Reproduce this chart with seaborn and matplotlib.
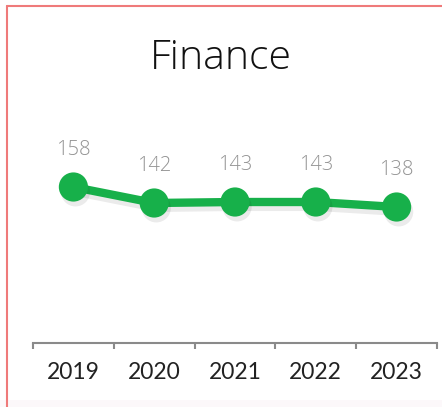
import matplotlib
matplotlib.use("Agg")
import matplotlib.pyplot as plt
import matplotlib.patheffects as pe
from matplotlib.lines import Line2D
from matplotlib.patches import Rectangle
import seaborn as sns
import pandas as pd

title = "Finance"
years = ["2019", "2020", "2021", "2022", "2023"]
values = [158, 142, 143, 143, 138]

sns.set_theme(style="white")
plt.rcParams['font.family'] = ['Lato', 'DejaVu Sans']

W, H = 442, 407
fig = plt.figure(figsize=(W / 100, H / 100), dpi=100)
fig.patch.set_facecolor("white")

# faint tint at the very bottom of the image
fig.add_artist(Rectangle((0, 0), 1, 7 / H, transform=fig.transFigure,
                         facecolor="#fcf8fa", edgecolor="none", zorder=0))

ax = fig.add_axes([33 / W, 64 / H, 404 / W, 243 / H])
ax.set_facecolor("none")

df = pd.DataFrame({"year": years, "value": values})
green = "#17b04a"
sns.pointplot(data=df, x="year", y="value", color=green, ax=ax,
              markersize=16.5, linewidth=6, errorbar=None)

for ln in ax.lines:
    ln.set_solid_capstyle("round")
    ln.set_path_effects([pe.SimpleLineShadow(offset=(1.5, -3.5), shadow_color="#000000", alpha=0.08),
                         pe.Normal()])

for i, v in enumerate(values):
    ax.annotate(str(v), (i, v), xytext=(0, 23), textcoords="offset points",
                ha="center", va="baseline", fontsize=14.5, color="#939393",
                fontfamily=["Open Sans", "DejaVu Sans"], fontweight="light")

ax.set_xlim(-0.5, len(years) - 0.5)
ax.set_ylim(2, 245)
ax.set_xlabel("")
ax.set_ylabel("")
ax.set_yticks([])

ax.set_xticks([i - 0.5 for i in range(len(years) + 1)])
ax.set_xticklabels([])
ax.set_xticks(range(len(years)), minor=True)
ax.set_xticklabels(years, minor=True)
ax.tick_params(axis="x", which="major", direction="out", length=4.5, width=1.5,
               color="#8a8a8a", bottom=True)
ax.tick_params(axis="x", which="minor", length=0, pad=14, labelsize=16.5,
               labelcolor="#222222")

for s in ["top", "right", "left"]:
    ax.spines[s].set_visible(False)
ax.spines["bottom"].set_color("#8a8a8a")
ax.spines["bottom"].set_linewidth(1.5)

fig.text(221 / W, 1 - 69 / H, title, ha="center", va="baseline",
         fontsize=29.5, color="#111111",
         fontfamily=["Open Sans", "DejaVu Sans"], fontweight="light")

fig.add_artist(Line2D([7 / W, 7 / W], [0, 1 - 6 / H], transform=fig.transFigure,
                      color="#ef7a7a", linewidth=1.5))
fig.add_artist(Line2D([7 / W, 1], [1 - 6 / H, 1 - 6 / H], transform=fig.transFigure,
                      color="#ef7a7a", linewidth=1.5))

fig.savefig("out.png", dpi=100)
